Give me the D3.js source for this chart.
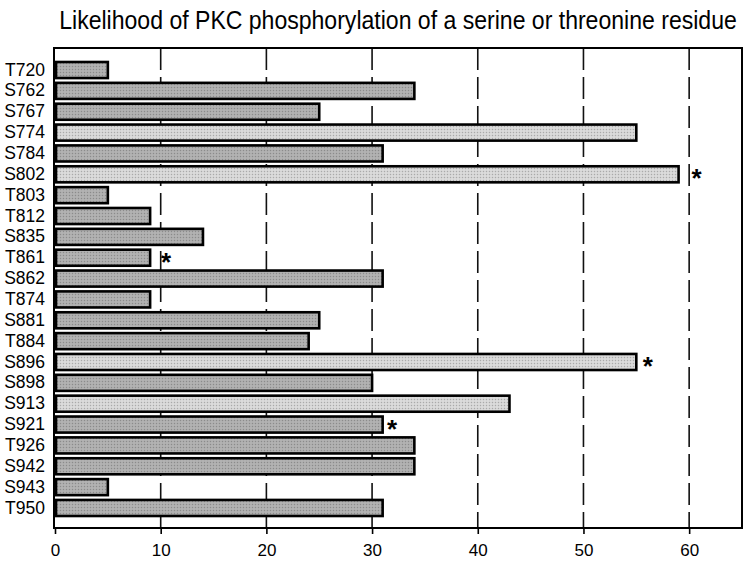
<!DOCTYPE html>
<html>
<head>
<meta charset="utf-8">
<script src="https://cdn.jsdelivr.net/npm/d3@7"></script>
<style>
  html, body { margin: 0; padding: 0; background: #fff; }
  svg { display: block; }
  text { font-family: "Liberation Sans", Arial, sans-serif; fill: #000; }
</style>
</head>
<body>
<svg id="chart" width="746" height="565"></svg>
<script>
// ---- data ----
const title = "Likelihood of PKC phosphorylation of a serine or threonine residue";
const residues = ["T720","S762","S767","S774","S784","S802","T803","T812","S835","T861","S862",
                  "T874","S881","T884","S896","S898","S913","S921","T926","S942","S943","T950"];
const likelihood = [5,34,25,55,31,59,5,9,14,9,31,9,25,24,55,30,43,31,34,34,5,31];
const xTicks = [0,10,20,30,40,50,60];
const xDomain = [0,65];
// asterisk annotations: residue and x location in data units
const starred = ["S802","T861","S896","S921"];
const starAt = [60.7,10.5,56.1,31.9];

// ---- layout ----
const svg = d3.select("#chart");
const W = 746, H = 565;
const plot = {left: 54, right: 742, top: 48, bottom: 528};

const x = d3.scaleLinear().domain(xDomain).range([55, 742]);
const y = d3.scaleBand().domain(residues).range([59.6, 518.4]).paddingInner(0.23).paddingOuter(0.115);
const shade = d3.scaleThreshold().domain([40]).range([0, 1]);

svg.append("rect").attr("width", W).attr("height", H).attr("fill", "#fff");

// texture pattern
const defs = svg.append("defs");
["#acacac", "#d3d3d3"].forEach((c, i) => {
  const p = defs.append("pattern").attr("id", "tex" + i)
    .attr("width", 3).attr("height", 3).attr("patternUnits", "userSpaceOnUse");
  p.append("rect").attr("width", 3).attr("height", 3).attr("fill", c);
  p.append("rect").attr("x", 0).attr("y", 0).attr("width", 1).attr("height", 1)
    .attr("fill", d3.color(c).darker(0.6));
  p.append("rect").attr("x", 1.5).attr("y", 1.5).attr("width", 1).attr("height", 1)
    .attr("fill", d3.color(c).brighter(0.4));
});

// title (horizontally condensed like the original)
const tTitle = svg.append("text")
  .attr("text-anchor", "middle")
  .attr("font-size", 25)
  .text(title);
const natural = tTitle.node().getComputedTextLength();
const sx = Math.min(1, 678 / natural);
tTitle.attr("transform", `translate(398,29) scale(${sx},1)`);

// gridlines
svg.append("g").selectAll("line")
  .data(xTicks.filter(d => d > 0))
  .join("line")
  .attr("x1", d => x(d)).attr("x2", d => x(d))
  .attr("y1", plot.top).attr("y2", plot.bottom)
  .attr("stroke", "#111").attr("stroke-width", 1.6)
  .attr("stroke-dasharray", "22,7");

// bars
svg.append("g").selectAll("rect")
  .data(residues.map((r, i) => ({r, v: likelihood[i]})))
  .join("rect")
  .attr("x", x(0) + 1)
  .attr("y", d => y(d.r))
  .attr("width", d => x(d.v) - x(0) - 1)
  .attr("height", y.bandwidth())
  .attr("fill", d => `url(#tex${shade(d.v)})`)
  .attr("stroke", "#000").attr("stroke-width", 2.6);

// frame
svg.append("rect")
  .attr("x", plot.left).attr("y", plot.top)
  .attr("width", plot.right - plot.left).attr("height", plot.bottom - plot.top)
  .attr("fill", "none").attr("stroke", "#000").attr("stroke-width", 2);

// x axis
const xAxis = d3.axisBottom(x).tickValues(xTicks).tickSize(6).tickPadding(10);
const gx = svg.append("g").attr("transform", `translate(0,${plot.bottom})`).call(xAxis);
gx.select(".domain").remove();
gx.selectAll(".tick line").attr("stroke", "#000").attr("stroke-width", 1.6);
gx.selectAll(".tick text")
  .attr("font-family", "'Liberation Sans', Arial, sans-serif")
  .attr("font-size", 17).attr("fill", "#000");

// y labels
const yAxis = d3.axisLeft(y).tickSize(0).tickPadding(9);
const gy = svg.append("g").attr("transform", `translate(${plot.left},0)`).call(yAxis);
gy.select(".domain").remove();
gy.selectAll(".tick text")
  .attr("font-family", "'Liberation Sans', Arial, sans-serif")
  .attr("font-size", 17.5).attr("fill", "#000");

// asterisks
svg.append("g").selectAll("text")
  .data(starred.map((r, i) => ({r, at: starAt[i]})))
  .join("text")
  .attr("x", d => x(d.at))
  .attr("y", d => y(d.r) + y.bandwidth() / 2 + 13)
  .attr("text-anchor", "middle")
  .attr("font-size", 26).attr("font-weight", "bold")
  .text("*");
</script>
</body>
</html>
